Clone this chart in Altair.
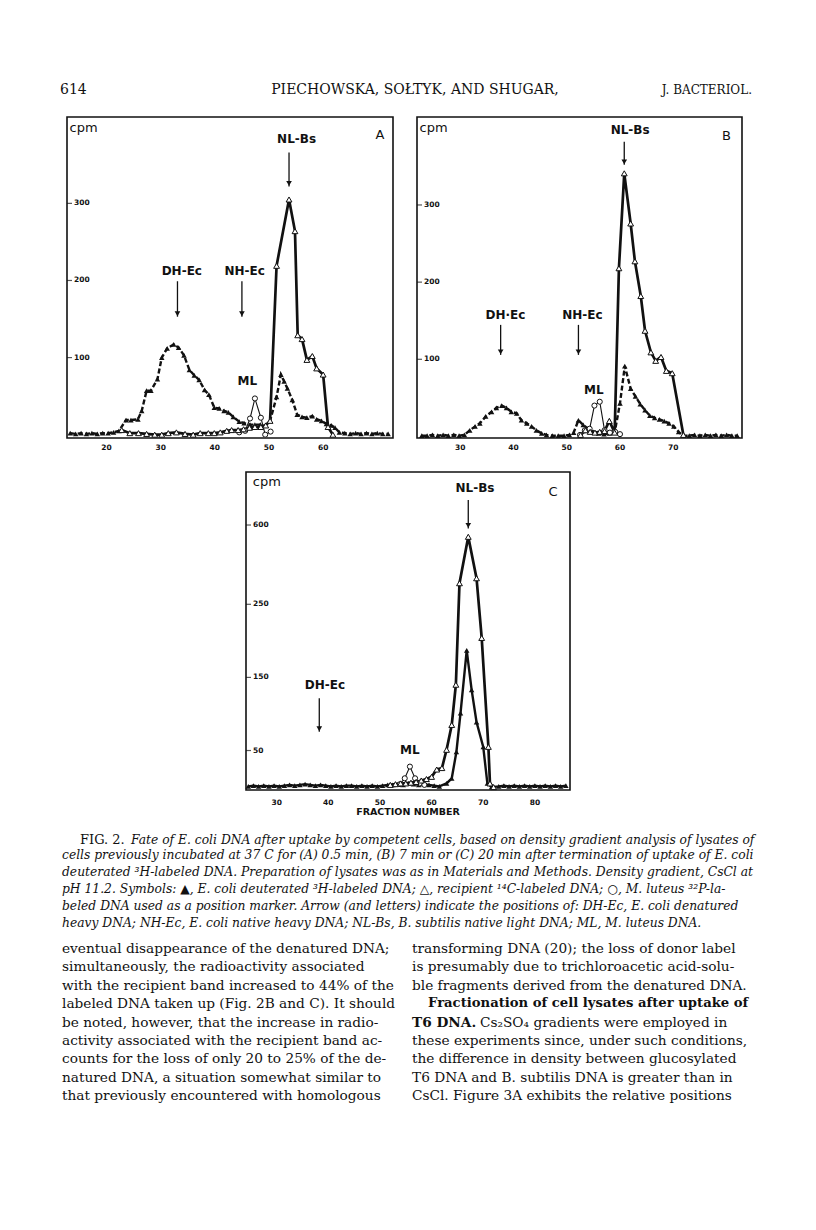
import altair as alt
import pandas as pd

# ---------------- Panel A (0.5 min) ----------------
a_fill_x = [13.3, 14.3, 15.3, 16.3, 17.3, 18.3, 19.3, 20.3, 21.3, 22.3, 23.6, 24.5, 25.8, 26.5, 27.4, 28.2,
            29.4, 30.2, 31.2, 32.4, 33.3, 34.3, 35.3, 36.2, 37.1, 38.1, 38.9, 39.9, 40.8, 41.7, 42.5, 43.4,
            44.5, 45.4, 46.5, 47.4, 48.4, 49.3, 50.2, 51.4, 52.2, 52.8, 53.4, 54.3, 55.2, 56.1, 57.0, 58.0,
            58.8, 59.7, 60.6, 61.5, 62.2, 63.0, 64.0, 65.0, 66.0, 67.0, 68.0, 69.0, 70.0, 71.0, 72.0]
a_fill_y = [2, 1, 2, 1, 2, 1, 2, 2, 3, 5, 19, 19, 20, 31, 57, 57,
            72, 100, 112, 117, 113, 103, 84, 77, 71, 58, 52, 35, 34, 31, 29, 23,
            17, 15, 13, 13, 13, 12, 18, 49, 78, 69, 60, 45, 26, 23, 22, 24,
            20, 18, 14, 12, 9, 3, 2, 1, 2, 1, 2, 1, 2, 1, 1]
a_open_x = [22.8, 24.3, 25.9, 27.4, 28.9, 30.2, 31.4, 32.9, 34.5, 36.0, 37.3, 38.8, 39.9, 41.0, 42.2, 43.1,
            44.3, 45.3, 46.4, 47.4, 48.5, 49.4, 50.2, 51.4, 53.7, 54.8, 55.3, 56.1, 57.0, 58.0, 58.8, 60.0,
            60.9, 61.8]
a_open_y = [6, 2, 2, 1, 0, 0, 2, 3, 1, 0, 2, 2, 2, 3, 5, 6,
            6, 7, 9, 10, 10, 12, 18, 219, 305, 264, 129, 124, 97, 102, 86, 78,
            10, 0]
a_circ_x = [44.5, 45.6, 46.5, 47.4, 48.5, 49.3, 50.3]
a_circ_y = [3, 5, 21, 47, 22, 0, 4]
a_xticks = [20, 30, 40, 50, 60]
a_yticks = [100, 200, 300]
a_arrow_lab = ["NL-Bs", "DH-Ec", "NH-Ec"]
a_arrow_x = [53.7, 33.1, 45.0]
a_arrow_tx = [55.1, 33.9, 45.5]
a_arrow_ty = [384, 212, 212]
a_arrow_top = [366, 199, 199]
a_arrow_bot = [322, 153, 153]
a_ml = (46.0, 69)
a_cpm = (15.75, 398)
a_letter = ("A", 70.5, 389)

# ---------------- Panel B (7 min) ----------------
b_fill_x = [22.8, 23.8, 24.8, 25.8, 26.8, 27.8, 28.8, 29.8, 30.8, 31.8, 32.8, 33.7, 34.8, 35.9, 36.8, 37.8,
            38.7, 39.6, 40.6, 41.5, 42.5, 43.4, 44.3, 45.3, 46.2, 47.3, 48.4, 49.5, 50.5, 51.3, 52.2, 53.1,
            54.0, 55.0, 56.0, 57.0, 58.0, 59.0, 60.0, 60.9, 62.0, 62.9, 63.8, 64.7, 65.6, 66.5, 67.4, 68.3,
            69.2, 70.1, 71.0, 71.8, 73, 74, 75, 76, 77, 78, 79, 80, 81, 82]
b_fill_y = [1, 1, 2, 1, 2, 1, 2, 1, 2, 8, 13, 17, 26, 32, 37, 40,
            37, 32, 30, 21, 17, 13, 8, 4, 2, 1, 1, 1, 2, 5, 21, 15,
            10, 6, 4, 3, 4, 5, 43, 91, 62, 52, 42, 34, 27, 24, 22, 20,
            17, 13, 6, 1, 1, 2, 1, 2, 1, 2, 1, 2, 1, 1]
b_open_x = [52.6, 53.5, 54.4, 55.3, 56.2, 57.1, 58.0, 59.0, 59.8, 60.8, 62.0, 62.8, 63.9, 64.7, 65.8, 66.7,
            67.7, 68.7, 69.8, 71.9]
b_open_y = [2, 8, 6, 5, 6, 7, 20, 5, 218, 341, 276, 227, 182, 137, 109, 98,
            103, 85, 82, 2]
b_circ_x = [52.5, 53.4, 54.3, 55.2, 56.2, 57.1, 58.1, 59.1, 60.0]
b_circ_y = [2, 8, 10, 40, 45, 8, 5, 6, 3]
b_xticks = [30, 40, 50, 60, 70]
b_yticks = [100, 200, 300]
b_arrow_lab = ["NL-Bs", "DH·Ec", "NH-Ec"]
b_arrow_x = [60.8, 37.6, 52.2]
b_arrow_tx = [61.9, 38.5, 52.95]
b_arrow_ty = [397.5, 157.6, 157.6]
b_arrow_top = [382, 144.6, 144.6]
b_arrow_bot = [352, 105.7, 105.7]
b_ml = (55.1, 60.3)
b_cpm = (25.0, 400)
b_letter = ("B", 80.0, 389)

# ---------------- Panel C (20 min) ----------------
c_fill_x = [24.5, 25.5, 26.5, 27.5, 28.5, 29.5, 30.5, 31.5, 32.5, 33.5, 34.5, 35.5, 36.5, 37.5, 38.5, 39.5,
            40.5, 41.5, 42.5, 43.5, 44.5, 45.5, 46.5, 47.5, 48.5, 49.5, 50.5, 51.5, 52.5, 53.5, 54.5, 55.5,
            56.5, 57.5, 58.5, 59.5, 60.5, 61.5, 62.9, 63.9, 64.8, 65.6, 66.8, 67.75, 68.7, 70.0, 70.8, 71.6,
            73, 74, 75, 76, 77, 78, 79, 80, 81, 82, 83, 84, 85, 86]
c_fill_y = [1, 2, 1, 2, 1, 2, 1, 2, 3, 2, 3, 4, 3, 2, 3, 2,
            1, 2, 1, 2, 2, 1, 2, 1, 2, 1, 2, 3, 3, 4, 3, 5,
            4, 3, 4, 3, 2, 1, 5, 12, 48, 101, 187, 133, 89, 55, 5, 0,
            1, 2, 1, 2, 1, 2, 1, 2, 1, 2, 1, 2, 1, 2]
c_open_x = [52, 53, 54, 55, 56, 57, 58, 59, 60, 61, 62, 62.9, 63.9, 64.7, 65.4, 67.1,
            68.7, 69.7, 71.0, 71.3, 72.0]
c_open_y = [3, 4, 5, 5, 6, 7, 9, 11, 14, 24, 26, 51, 85, 140, 343, 548,
            365, 204, 55, 5, 0]
c_circ_x = [53.9, 54.8, 55.8, 56.8, 57.7, 58.6]
c_circ_y = [4, 12, 28, 12, 5, 3]
c_xticks = [30, 40, 50, 60, 70, 80]
c_yticks = [50, 150, 250, 600]
c_arrow_lab = ["NL-Bs", "DH-Ec"]
c_arrow_x = [67.1, 38.25]
c_arrow_tx = [68.4, 39.35]
c_arrow_ty = [761.6, 139.3]
c_arrow_top = [710, 121.4]
c_arrow_bot = [585, 75.7]
c_ml = (55.8, 50.6)
c_cpm = (28.1, 790.7)
c_letter = ("C", 83.5, 746.6)

# ---------------- Page text ----------------
header_left = "614"
header_mid = "PIECHOWSKA, SOŁTYK, AND SHUGAR,"
header_right = "J. BACTERIOL."
xaxis_title = "FRACTION NUMBER"
caption_fig = "FIG. 2."
caption_first = "Fate of E. coli DNA after uptake by competent cells, based on density gradient analysis of lysates of"
caption_rest = [
    "cells previously incubated at 37 C for (A) 0.5 min, (B) 7 min or (C) 20 min after termination of uptake of E. coli",
    "deuterated ³H-labeled DNA. Preparation of lysates was as in Materials and Methods. Density gradient, CsCl at",
    "pH 11.2. Symbols: ▲, E. coli deuterated ³H-labeled DNA; △, recipient ¹⁴C-labeled DNA; ○, M. luteus ³²P-la-",
    "beled DNA used as a position marker. Arrow (and letters) indicate the positions of: DH-Ec, E. coli denatured",
    "heavy DNA; NH-Ec, E. coli native heavy DNA; NL-Bs, B. subtilis native light DNA; ML, M. luteus DNA.",
]
body_left = [
    "eventual disappearance of the denatured DNA;",
    "simultaneously, the radioactivity associated",
    "with the recipient band increased to 44% of the",
    "labeled DNA taken up (Fig. 2B and C). It should",
    "be noted, however, that the increase in radio-",
    "activity associated with the recipient band ac-",
    "counts for the loss of only 20 to 25% of the de-",
    "natured DNA, a situation somewhat similar to",
    "that previously encountered with homologous",
]
body_right_a = [
    "transforming DNA (20); the loss of donor label",
    "is presumably due to trichloroacetic acid-solu-",
    "ble fragments derived from the denatured DNA.",
]
body_right_bold = "Fractionation of cell lysates after uptake of"
body_right_bold2 = "T6 DNA."
body_right_line5 = "Cs₂SO₄ gradients were employed in"
body_right_b = [
    "these experiments since, under such conditions,",
    "the difference in density between glucosylated",
    "T6 DNA and B. subtilis DNA is greater than in",
    "CsCl. Figure 3A exhibits the relative positions",
]

SANS = "DejaVu Sans"
SERIF = "DejaVu Serif"
INK = "#111111"
BODY = 13.7
CAP = 12.3


def panel(xdom, xrng, ydom, yrng, fx, fy, ox, oy, cx, cy, xticks, yticks,
          alab, ax, atx, aty, atop, abot, ml, cpm, letter, fill_dash, xlab_y):
    xs = alt.Scale(domain=xdom, range=xrng, nice=False, zero=False)
    ys = alt.Scale(domain=ydom, range=yrng, nice=False, zero=False)

    def X(f):
        return alt.X(f"{f}:Q", scale=xs, axis=None)

    def Y(f):
        return alt.Y(f"{f}:Q", scale=ys, axis=None)

    layers = []
    frame = pd.DataFrame({"x0": [xdom[0]], "x1": [xdom[-1]], "y0": [ydom[0]], "y1": [ydom[-1]]})
    layers.append(alt.Chart(frame).mark_rect(fillOpacity=0, stroke=INK, strokeWidth=1.6)
                  .encode(x=X("x0"), x2="x1:Q", y=Y("y0"), y2="y1:Q"))

    fd = pd.DataFrame({"x": fx, "y": fy})
    od = pd.DataFrame({"x": ox, "y": oy})
    cd = pd.DataFrame({"x": cx, "y": cy})
    line_kw = dict(color=INK, strokeWidth=2.4)
    if fill_dash:
        line_kw["strokeDash"] = [5, 2.5]
    layers.append(alt.Chart(fd).mark_line(**line_kw).encode(x=X("x"), y=Y("y")))
    layers.append(alt.Chart(cd).mark_line(color=INK, strokeWidth=1.1).encode(x=X("x"), y=Y("y")))
    layers.append(alt.Chart(od).mark_line(color=INK, strokeWidth=2.7).encode(x=X("x"), y=Y("y")))
    layers.append(alt.Chart(fd).mark_point(shape="triangle-up", filled=True, color=INK, size=30, opacity=1)
                  .encode(x=X("x"), y=Y("y")))
    layers.append(alt.Chart(cd).mark_point(shape="circle", filled=True, fill="white", stroke=INK,
                                           strokeWidth=1, size=26, opacity=1).encode(x=X("x"), y=Y("y")))
    layers.append(alt.Chart(od).mark_point(shape="triangle-up", filled=True, fill="white", stroke=INK,
                                           strokeWidth=1, size=34, opacity=1).encode(x=X("x"), y=Y("y")))

    # y ticks and labels inside the frame
    yt = pd.DataFrame({"x": [xdom[0]] * len(yticks), "y": yticks, "t": [str(v) for v in yticks]})
    layers.append(alt.Chart(yt).mark_tick(orient="horizontal", size=5, thickness=1.2, color=INK, xOffset=2.5)
                  .encode(x=X("x"), y=Y("y")))
    layers.append(alt.Chart(yt).mark_text(align="left", baseline="middle", dx=7, font=SANS, fontSize=7.5,
                                          fontWeight="bold", color=INK)
                  .encode(x=X("x"), y=Y("y"), text="t:N"))
    # x tick labels below the frame
    xt = pd.DataFrame({"x": xticks, "t": [str(v) for v in xticks]})
    layers.append(alt.Chart(xt).mark_text(align="center", baseline="middle", font=SANS, fontSize=7.5,
                                          fontWeight="bold", color=INK)
                  .encode(x=X("x"), y=alt.value(xlab_y), text="t:N"))
    # arrows with labels
    ad = pd.DataFrame({"lab": alab, "x": ax, "tx": atx, "ty": aty, "top": atop, "bot": abot})
    layers.append(alt.Chart(ad).mark_rule(color=INK, strokeWidth=1.3)
                  .encode(x=X("x"), y=Y("top"), y2="bot:Q"))
    layers.append(alt.Chart(ad).mark_point(shape="triangle-down", filled=True, color=INK, size=32,
                                           opacity=1, yOffset=-3)
                  .encode(x=X("x"), y=Y("bot")))
    layers.append(alt.Chart(ad).mark_text(align="center", baseline="middle", font=SANS, fontSize=12,
                                          fontWeight="bold", color=INK)
                  .encode(x=X("tx"), y=Y("ty"), text="lab:N"))
    md = pd.DataFrame({"x": [ml[0]], "y": [ml[1]], "t": ["ML"]})
    layers.append(alt.Chart(md).mark_text(align="center", baseline="middle", font=SANS, fontSize=12,
                                          fontWeight="bold", color=INK)
                  .encode(x=X("x"), y=Y("y"), text="t:N"))
    kd = pd.DataFrame({"x": [cpm[0], letter[1]], "y": [cpm[1], letter[2]], "t": ["cpm", letter[0]]})
    layers.append(alt.Chart(kd).mark_text(align="center", baseline="middle", font=SANS, fontSize=13,
                                          color=INK)
                  .encode(x=X("x"), y=Y("y"), text="t:N"))
    return alt.layer(*layers)


pA = panel([12.7, 72.9], [59, 385], [-4.3, 412], [430, 109],
           a_fill_x, a_fill_y, a_open_x, a_open_y, a_circ_x, a_circ_y, a_xticks, a_yticks,
           a_arrow_lab, a_arrow_x, a_arrow_tx, a_arrow_ty, a_arrow_top, a_arrow_bot,
           a_ml, a_cpm, a_letter, True, 440)
pB = panel([21.9, 82.9], [409, 734], [-2, 414], [430, 109],
           b_fill_x, b_fill_y, b_open_x, b_open_y, b_circ_x, b_circ_y, b_xticks, b_yticks,
           b_arrow_lab, b_arrow_x, b_arrow_tx, b_arrow_ty, b_arrow_top, b_arrow_bot,
           b_ml, b_cpm, b_letter, True, 440)
pC = panel([24.06, 86.8], [238, 562], [-4, 250, 834], [782, 596.3, 464],
           c_fill_x, c_fill_y, c_open_x, c_open_y, c_circ_x, c_circ_y, c_xticks, c_yticks,
           c_arrow_lab, c_arrow_x, c_arrow_tx, c_arrow_ty, c_arrow_top, c_arrow_bot,
           c_ml, c_cpm, c_letter, False, 795)


def txt(s, x, y, **kw):
    base = dict(font=SERIF, fontSize=13, color=INK, baseline="middle", align="left")
    base.update(kw)
    return alt.Chart(pd.DataFrame({"t": [s]})).mark_text(**base).encode(
        text="t:N", x=alt.value(x), y=alt.value(y))


texts = [
    txt(header_left, 52, 82, fontSize=14),
    txt(header_mid, 407, 82, fontSize=14, align="center"),
    txt(header_right, 744, 82, fontSize=12, align="right"),
    txt(xaxis_title, 400, 804, font=SANS, fontSize=9.5, fontWeight="bold", align="center"),
    txt(caption_fig, 72, 832, fontSize=13),
    txt(caption_first, 123, 832, fontSize=CAP, fontStyle="italic"),
    txt("\n".join(caption_rest), 54, 841, fontSize=CAP, fontStyle="italic", baseline="top",
        lineBreak="\n", lineHeight=17),
    txt("\n".join(body_left), 54, 934, fontSize=BODY, baseline="top", lineBreak="\n", lineHeight=18.4),
    txt("\n".join(body_right_a), 404, 934, fontSize=BODY, baseline="top", lineBreak="\n", lineHeight=18.4),
    txt(body_right_bold, 420, 934 + 3 * 18.4, fontSize=13.2, fontWeight="bold", baseline="top"),
    txt(body_right_bold2, 404, 934 + 4 * 18.4, fontSize=BODY, fontWeight="bold", baseline="top"),
    txt(body_right_line5, 472, 934 + 4 * 18.4, fontSize=BODY, baseline="top"),
    txt("\n".join(body_right_b), 404, 934 + 5 * 18.4, fontSize=BODY, baseline="top", lineBreak="\n",
        lineHeight=18.4),
]

chart = alt.layer(pA, pB, pC, *texts).resolve_scale(x="independent", y="independent").properties(
    width=800, height=1214, autosize=alt.AutoSizeParams(type="none"), padding=0
).configure_view(stroke=None)

chart.save("out.html", embed_options={"renderer": "svg", "actions": False})
